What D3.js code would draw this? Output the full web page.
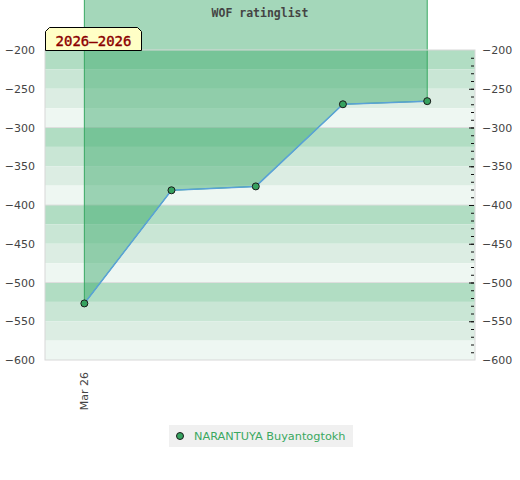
<!DOCTYPE html>
<html>
<head>
<meta charset="utf-8">
<script src="https://cdn.jsdelivr.net/npm/d3@7"></script>
<style>
  body { margin: 0; background: #fff; }
  svg { display: block; }
</style>
</head>
<body>
<div id="chart"></div>
<script>
// monthly rating periods
const periods = ["2026-03-01", "2026-04-01", "2026-05-01", "2026-06-01", "2026-07-01"];
const ratings = [-527, -381, -376, -270, -266];
const xTickLabels = ["2026-03-01"];
const yTicks = [-200, -250, -300, -350, -400, -450, -500, -550, -600];
const playerName = "NARANTUYA Buyantogtokh";
const chartTitle = "WOF ratinglist";
const rangeLabel = "2026\u20132026";

const width = 520, height = 480;
const plotLeft = 45, plotRight = 475, plotTop = 50, plotBottom = 360;

const parse = d3.utcParse("%Y-%m-%d");
const dates = periods.map(parse);

const svg = d3.select("#chart").append("svg")
    .attr("width", width)
    .attr("height", height);

const x = d3.scaleUtc()
    .domain([parse("2026-02-15"), parse("2026-07-18")])
    .range([plotLeft, plotRight]);

const y = d3.scaleLinear()
    .domain([-600, -200])
    .range([plotBottom, plotTop]);

// striped background, 4 shades per 100 points
const bandColors = ["#b1ddc3", "#c9e6d5", "#dcede3", "#eef7f2"];
const bands = d3.range(-200, -600, -25);
svg.append("g").selectAll("rect")
    .data(bands)
    .enter().append("rect")
    .attr("x", plotLeft)
    .attr("width", plotRight - plotLeft)
    .attr("y", d => y(d))
    .attr("height", d => y(d - 25) - y(d))
    .attr("fill", (d, i) => bandColors[i % 4]);

// grid lines every 100
svg.append("g").selectAll("line")
    .data([-300, -400, -500])
    .enter().append("line")
    .attr("x1", plotLeft).attr("x2", plotRight)
    .attr("y1", d => y(d)).attr("y2", d => y(d))
    .attr("stroke", "#dedede");

// area between 0 and the rating line
const idx = ratings.map((d, i) => i);
const area = d3.area()
    .x(i => x(dates[i]))
    .y0(y(0))
    .y1(i => y(ratings[i]));

svg.append("path")
    .datum(idx)
    .attr("d", area)
    .attr("fill", "#2ca25f")
    .attr("fill-opacity", 0.43)
    .attr("stroke", "#38a862")
    .attr("stroke-width", 1);

// frame
svg.append("rect")
    .attr("x", plotLeft).attr("y", plotTop)
    .attr("width", plotRight - plotLeft).attr("height", plotBottom - plotTop)
    .attr("fill", "none")
    .attr("stroke", "#d8d8d8");

// minor / major ticks inside the right edge
svg.append("g")
    .attr("transform", `translate(${plotRight - 1},0)`)
    .call(d3.axisLeft(y).tickValues(d3.range(-590, -200, 10)).tickSize(3).tickFormat(""))
    .call(g => g.select(".domain").remove())
    .call(g => g.selectAll("line").attr("stroke", "#111"));
svg.append("g")
    .attr("transform", `translate(${plotRight - 1},0)`)
    .call(d3.axisLeft(y).tickValues(d3.range(-550, -200, 50)).tickSize(5).tickFormat(""))
    .call(g => g.select(".domain").remove())
    .call(g => g.selectAll("line").attr("stroke", "#111"));

// left and right labels
const leftAxis = svg.append("g")
    .attr("transform", `translate(${plotLeft - 8},0)`)
    .call(d3.axisLeft(y).tickValues(yTicks).tickSize(0).tickPadding(2));
const rightAxis = svg.append("g")
    .attr("transform", `translate(${plotRight + 5},0)`)
    .call(d3.axisRight(y).tickValues(yTicks).tickSize(0).tickPadding(2));
[leftAxis, rightAxis].forEach(g => {
    g.select(".domain").remove();
    g.selectAll("text")
        .attr("font-family", "DejaVu Sans")
        .attr("font-size", 11)
        .attr("fill", "#444");
});

// x label
const fmt = d3.utcFormat("%b %y");
svg.append("g").selectAll("text")
    .data(xTickLabels.map(parse))
    .enter().append("text")
    .attr("transform", d => `translate(${x(d) + 4},372) rotate(-90)`)
    .attr("text-anchor", "end")
    .attr("font-family", "DejaVu Sans")
    .attr("font-size", 11)
    .attr("fill", "#444")
    .text(d => fmt(d));

// rating line
const line = d3.line()
    .x(i => x(dates[i]))
    .y(i => y(ratings[i]));

svg.append("path")
    .datum(idx)
    .attr("d", line)
    .attr("fill", "none")
    .attr("stroke", "#5aa2d8")
    .attr("stroke-width", 1.5);

svg.append("g").selectAll("circle")
    .data(idx)
    .enter().append("circle")
    .attr("cx", i => x(dates[i]))
    .attr("cy", i => y(ratings[i]))
    .attr("r", 3.5)
    .attr("fill", "#36a25f")
    .attr("stroke", "#1a1a1a")
    .attr("stroke-width", 1);

// title
svg.append("text")
    .attr("x", 260).attr("y", 17)
    .attr("text-anchor", "middle")
    .attr("font-family", "DejaVu Sans Mono")
    .attr("font-weight", "bold")
    .attr("font-size", 11.5)
    .attr("fill", "#444")
    .text(chartTitle);

// period label box
svg.append("path")
    .attr("d", "M45.5,50.5 L45.5,31.5 L49.5,27.5 L137.5,27.5 L141.5,31.5 L141.5,50.5 Z")
    .attr("fill", "#ffffc6")
    .attr("stroke", "#000");
svg.append("text")
    .attr("x", 93.5).attr("y", 46)
    .attr("text-anchor", "middle")
    .attr("font-family", "DejaVu Sans Mono")
    .attr("font-size", 14)
    .attr("fill", "#8b0000")
    .attr("stroke", "#8b0000")
    .attr("stroke-width", 0.4)
    .text(rangeLabel);

// legend
const legend = svg.append("g");
legend.append("rect")
    .attr("x", 169).attr("y", 425)
    .attr("width", 184).attr("height", 22)
    .attr("fill", "#f0f0f0");
legend.append("circle")
    .attr("cx", 180).attr("cy", 436)
    .attr("r", 3.5)
    .attr("fill", "#36a25f")
    .attr("stroke", "#1a1a1a");
legend.append("text")
    .attr("x", 194).attr("y", 440)
    .attr("font-family", "DejaVu Sans")
    .attr("font-size", 11.3)
    .attr("fill", "#3aa860")
    .text(playerName);
</script>
</body>
</html>
